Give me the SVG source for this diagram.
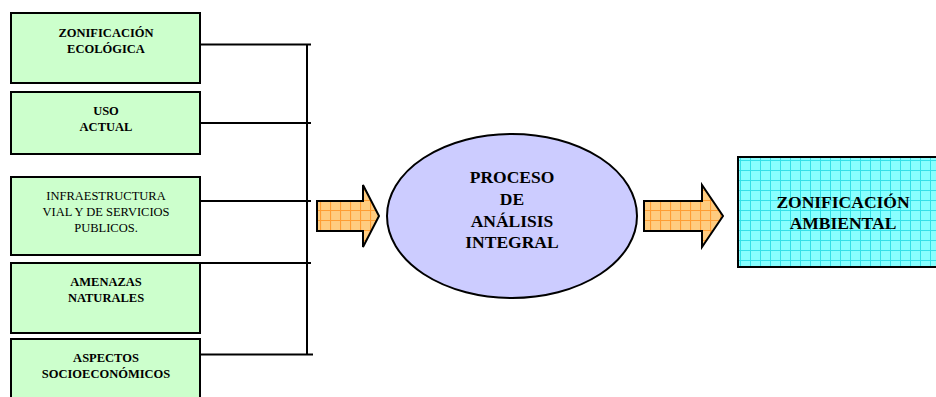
<svg xmlns="http://www.w3.org/2000/svg" width="936" height="397" viewBox="0 0 936 397">
<defs>
<pattern id="gridCyan" width="10" height="10" patternUnits="userSpaceOnUse" x="0" y="0">
<rect width="10" height="10" fill="#88ffff"/>
<path d="M0 0.5H10M0.5 0V10" stroke="#33e0e8" stroke-width="1"/>
</pattern>
<pattern id="gridOrange" width="10" height="10" patternUnits="userSpaceOnUse">
<rect width="10" height="10" fill="#ffcc80"/>
<path d="M0 0.5H10M0.5 0V10" stroke="#ff9d33" stroke-width="1.2"/>
</pattern>
<style>
.box{fill:#ccffcc;stroke:#000;stroke-width:2}
.t{font-family:"Liberation Serif","Times New Roman",serif;text-anchor:middle;fill:#000}
.b{font-weight:bold;font-size:12.5px}
.n{font-size:12.5px}
.big{font-weight:bold;font-size:17.5px}
.ln{stroke:#000;stroke-width:2;fill:none}
.arr{fill:url(#gridOrange);stroke:#000;stroke-width:2}
</style>
</defs>
<g id="connectors">
<path class="ln" d="M198 44.5H311M198 123H311M198 201H311M198 263H311M200 354.5H313M307 44V355"/>
</g>
<g id="n1"><rect class="box" x="11" y="13" width="189" height="70"/>
<text class="t b" x="106" y="37">ZONIFICACIÓN</text><text class="t b" x="106" y="53">ECOLÓGICA</text></g>
<g id="n2"><rect class="box" x="11" y="92" width="189" height="62"/>
<text class="t b" x="106" y="115">USO</text><text class="t b" x="106" y="131">ACTUAL</text></g>
<g id="n3"><rect class="box" x="11" y="177" width="189" height="78"/>
<text class="t n" x="106" y="200">INFRAESTRUCTURA</text><text class="t n" x="106" y="216">VIAL Y DE SERVICIOS</text><text class="t n" x="106" y="232">PUBLICOS.</text></g>
<g id="n4"><rect class="box" x="11" y="263" width="189" height="70"/>
<text class="t b" x="106" y="286">AMENAZAS</text><text class="t b" x="106" y="302">NATURALES</text></g>
<g id="n5"><rect class="box" x="11" y="339" width="189" height="70"/>
<text class="t b" x="106" y="362">ASPECTOS</text><text class="t b" x="106" y="378">SOCIOECONÓMICOS</text></g>
<g id="arrow1"><path class="arr" d="M317 201H363V185L379 216L363 247V231H317Z"/></g>
<g id="n6"><ellipse cx="512" cy="216" rx="125" ry="82" fill="#ccccff" stroke="#000" stroke-width="2"/>
<text class="t big" x="512" y="183">PROCESO</text><text class="t big" x="512" y="205">DE</text><text class="t big" x="512" y="227">ANÁLISIS</text><text class="t big" x="512" y="248">INTEGRAL</text></g>
<g id="arrow2"><path class="arr" d="M644 201H702V185L723 216L702 247V231H644Z"/></g>
<g id="n7"><rect x="738" y="157" width="210" height="110" fill="url(#gridCyan)" stroke="#000" stroke-width="2"/>
<text class="t big" x="843" y="208">ZONIFICACIÓN</text><text class="t big" x="843" y="229">AMBIENTAL</text></g>
</svg>
